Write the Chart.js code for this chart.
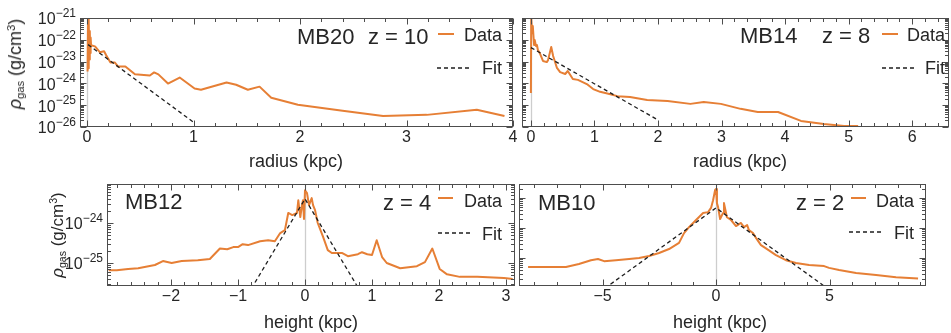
<!DOCTYPE html>
<html>
<head>
<meta charset="utf-8">
<script src="https://cdn.jsdelivr.net/npm/chart.js@4.4.1/dist/chart.umd.min.js"></script>
<style>
  body { margin: 0; background: #fff; }
  #wrap { position: relative; width: 951px; height: 333px; overflow: hidden;
          font-family: "Liberation Sans", Arial, sans-serif; color: #262626; }
  canvas { position: absolute; left: 0; top: 0; }
  .t { position: absolute; white-space: nowrap; line-height: 1; }
  .l { transform: translate(0, -50%); }
  .c { transform: translate(-50%, -50%); }
  .r { transform: translate(-100%, -50%); }
  .rot { transform: translate(-50%, -50%) rotate(-90deg); }
  .sub { font-size: 0.62em; position: relative; top: 0.3em; }
  .sup { font-size: 0.62em; position: relative; top: -0.55em; }
</style>
</head>
<body>
<div id="wrap">
  <canvas id="mb20" width="951" height="333"></canvas>
  <canvas id="mb14" width="951" height="333"></canvas>
  <canvas id="mb12" width="951" height="333"></canvas>
  <canvas id="mb10" width="951" height="333"></canvas>

  <div class="t rot" style="left:15px;top:64px;font-size:18px"><i>ρ</i><span class="sub">gas</span> (g/cm<span class="sup">3</span>)</div>
  <div class="t rot" style="left:57px;top:235px;font-size:17px"><i>ρ</i><span class="sub">gas</span> (g/cm<span class="sup">3</span>)</div>

  <div class="t c" style="left:296px;top:161px;font-size:18px">radius (kpc)</div>
  <div class="t c" style="left:740px;top:161px;font-size:18px">radius (kpc)</div>
  <div class="t c" style="left:311px;top:322px;font-size:18px">height (kpc)</div>
  <div class="t c" style="left:720px;top:322px;font-size:18px">height (kpc)</div>

  <div class="t l" style="left:297px;top:37px;font-size:22px">MB20</div>
  <div class="t l" style="left:368px;top:37px;font-size:22px">z = 10</div>
  <div class="t l" style="left:740px;top:36px;font-size:22px">MB14</div>
  <div class="t l" style="left:822px;top:36px;font-size:22px">z = 8</div>
  <div class="t l" style="left:125px;top:202px;font-size:22px">MB12</div>
  <div class="t l" style="left:383px;top:203px;font-size:22px">z = 4</div>
  <div class="t l" style="left:538px;top:203px;font-size:22px">MB10</div>
  <div class="t l" style="left:796px;top:203px;font-size:22px">z = 2</div>

  <div class="t r" style="left:502px;top:35px;font-size:18px">Data</div>
  <div class="t r" style="left:502px;top:68px;font-size:18px">Fit</div>
  <div class="t r" style="left:945px;top:35px;font-size:18px">Data</div>
  <div class="t r" style="left:945px;top:68px;font-size:18px">Fit</div>
  <div class="t r" style="left:502px;top:201px;font-size:18px">Data</div>
  <div class="t r" style="left:502px;top:234px;font-size:18px">Fit</div>
  <div class="t r" style="left:914px;top:201px;font-size:18px">Data</div>
  <div class="t r" style="left:914px;top:233px;font-size:18px">Fit</div>
</div>

<script>
// MB20, z = 10: radial gas density profile (kpc, g/cm^3)
const mb20Radius = [0.005, 0.01, 0.014, 0.018, 0.022, 0.026, 0.03, 0.034, 0.038, 0.075, 0.12, 0.16, 0.18, 0.22, 0.26, 0.29, 0.36,
  0.45, 0.59, 0.63, 0.67, 0.76, 0.87, 1.01, 1.07, 1.31, 1.40, 1.51, 1.62, 1.73, 1.98, 2.40, 2.78, 3.19, 3.66, 3.92];
const mb20Rho = [3.5e-24, 1.2e-21, 5.0e-24, 6.3e-22, 1.26e-23, 2.5e-22, 2.5e-23, 1.26e-22, 5.6e-23, 5.0e-23, 2.7e-23, 3.0e-23, 1.95e-23, 9.1e-24, 9.1e-24, 6.0e-24, 6.0e-24,
  2.6e-24, 2.3e-24, 3.2e-24, 2.6e-24, 9.8e-25, 1.86e-24, 5.8e-25, 5.1e-25, 1.1e-24, 8.7e-25, 5.1e-25, 7.1e-25, 2.2e-25, 1.05e-25, 5.5e-26, 3.2e-26, 3.6e-26, 6.2e-26, 3.2e-26];
const mb20FitRadius = [0.01, 1.0];
const mb20FitRho = [6.0e-23, 1.66e-26];

// MB14, z = 8
const mb14Radius = [0.0, 0.005, 0.02, 0.03, 0.05, 0.06, 0.08, 0.095, 0.11, 0.14, 0.19, 0.25, 0.27, 0.32, 0.35, 0.41, 0.46, 0.54, 0.58, 0.66,
  0.74, 0.88, 0.98, 1.09, 1.25, 1.36, 1.56, 1.83, 2.15, 2.51, 2.72, 2.99, 3.30, 3.57, 3.89, 4.25, 4.61, 4.93, 5.15];
const mb14Rho = [3.6e-25, 1.12e-21, 2.0e-22, 4.3e-22, 5.8e-23, 9.8e-23, 5.2e-23, 5.8e-23, 3.4e-23, 2.45e-23, 1.07e-23, 9.5e-24, 1.17e-23, 4.7e-23, 1.8e-23, 5.1e-24, 3.3e-24, 2.7e-24, 3.7e-24, 1.58e-24,
  1.45e-24, 9.3e-25, 5.5e-25, 4.1e-25, 3.2e-25, 2.6e-25, 2.4e-25, 1.74e-25, 1.55e-25, 1.15e-25, 1.41e-25, 1.15e-25, 6.8e-26, 4.9e-26, 4.9e-26, 1.9e-26, 1.38e-26, 1.12e-26, 1.12e-26];
const mb14FitRadius = [0.0, 2.0];
const mb14FitRho = [4.4e-23, 2.1e-26];

// MB12, z = 4: vertical profile
const mb12Height = [-2.93, -2.81, -2.64, -2.49, -2.24, -2.12, -1.99, -1.84, -1.60, -1.42, -1.27, -1.16, -1.07, -1.00, -0.93, -0.85, -0.67, -0.55, -0.45, -0.37,
  -0.30, -0.25, -0.19, -0.12, -0.10, -0.07, -0.045, -0.03, -0.015, 0.0, 0.03, 0.06, 0.10, 0.12, 0.15, 0.19, 0.27, 0.34, 0.40, 0.55,
  0.64, 0.79, 0.85, 0.93, 1.00, 1.07, 1.15, 1.22, 1.42, 1.67, 1.79, 1.90, 2.01, 2.12, 2.31, 2.57, 2.97, 3.10];
const mb12Rho = [6.6e-26, 6.6e-26, 7.1e-26, 7.4e-26, 8.9e-26, 1.12e-25, 1.0e-25, 1.12e-25, 1.17e-25, 1.26e-25, 2.3e-25, 2.2e-25, 2.5e-25, 2.5e-25, 2.95e-25, 2.8e-25, 3.5e-25, 3.7e-25, 3.5e-25, 5.6e-25,
  6.6e-25, 1.78e-24, 1.58e-24, 1.78e-24, 3.7e-24, 1.41e-24, 2.8e-24, 3.7e-24, 1.26e-24, 6.6e-24, 5.6e-24, 2.8e-24, 4.2e-24, 2.8e-24, 2.1e-24, 1.0e-24, 4.5e-25, 2.1e-25, 1.78e-25, 1.78e-25,
  1.48e-25, 1.66e-25, 1.86e-25, 1.66e-25, 1.58e-25, 3.7e-25, 1.41e-25, 1.0e-25, 7.4e-26, 8.3e-26, 1.05e-25, 2.3e-25, 7.1e-26, 5.2e-26, 4.5e-26, 4.5e-26, 4.2e-26, 4.0e-26];
const mb12FitHeight = [-0.8, 0, 0.8];
const mb12FitRho = [2.3e-26, 4.0e-24, 2.3e-26];

// MB10, z = 2
const mb10Height = [-8.28, -7.36, -6.61, -6.04, -5.51, -5.20, -4.93, -4.41, -3.83, -3.39, -2.95, -2.51, -2.07, -1.63, -1.41, -1.19, -0.88, -0.57, -0.35, -0.22,
  -0.13, -0.04, 0.0, 0.04, 0.09, 0.18, 0.31, 0.35, 0.48, 0.66, 0.88, 1.10, 1.23, 1.37, 1.45, 1.63, 1.76, 1.98, 2.20, 2.64,
  3.08, 3.52, 4.10, 4.76, 4.98, 5.42, 6.17, 7.05, 7.93, 8.90];
const mb10Rho = [5.0e-27, 5.0e-27, 5.0e-27, 6.3e-27, 8.5e-27, 9.3e-27, 7.9e-27, 8.5e-27, 9.3e-27, 1.0e-26, 1.17e-26, 1.48e-26, 2.0e-26, 3.2e-26, 6.8e-26, 1.07e-25, 1.86e-25, 3.2e-25, 3.4e-25, 4.7e-25,
  8.5e-25, 1.86e-24, 2.0e-24, 6.8e-25, 5.0e-25, 2.0e-25, 3.2e-25, 6.8e-25, 2.3e-25, 1.86e-25, 1.17e-25, 1.48e-25, 1.07e-25, 1.26e-25, 8.5e-26, 6.8e-26, 4.7e-26, 2.7e-26, 2.1e-26, 1.26e-26,
  8.5e-27, 6.8e-27, 5.9e-27, 5.4e-27, 4.7e-27, 4.0e-27, 3.2e-27, 2.7e-27, 2.3e-27, 2.1e-27];
const mb10FitHeight = [-4.9, 0, 4.9];
const mb10FitRho = [9.8e-28, 4.7e-25, 9.8e-28];

// tick labels
const mb20XTicks = [0, 1, 2, 3, 4];
const mb14XTicks = [0, 1, 2, 3, 4, 5, 6];
const mb12XTicks = [-2, -1, 0, 1, 2, 3];
const mb10XTicks = [-5, 0, 5];
const mb20YExp = [-26, -25, -24, -23, -22, -21];
const mb12YExp = [-25, -24];

const W = 951, H = 333;
const ORANGE = '#e67f35';
const FONT = '"Liberation Sans", Arial, sans-serif';

// frame with inward ticks on all four sides, zero line and legend keys
const framePlugin = {
  id: 'frame',
  beforeDatasetsDraw(chart) {
    const { ctx, chartArea: a, scales: { x } } = chart;
    const x0 = Math.round(x.getPixelForValue(0)) + 0.5;
    ctx.save();
    ctx.strokeStyle = '#cdcdcd';
    ctx.lineWidth = 1.3;
    ctx.beginPath();
    ctx.moveTo(x0, a.top);
    ctx.lineTo(x0, a.bottom);
    ctx.stroke();
    ctx.restore();
  },
  afterDraw(chart, args, o) {
    const { ctx, chartArea: a, scales: { x, y } } = chart;
    const L = Math.round(a.left) + 0.5, R = Math.round(a.right) - 0.5;
    const T = Math.round(a.top) + 0.5, B = Math.round(a.bottom) - 0.5;
    ctx.save();
    ctx.strokeStyle = '#4d4d4d';
    ctx.lineWidth = 1;
    ctx.strokeRect(L, T, R - L, B - T);

    ctx.beginPath();
    const n0 = Math.ceil(x.min / o.xMinor - 1e-6), n1 = Math.floor(x.max / o.xMinor + 1e-6);
    for (let i = n0; i <= n1; i++) {
      const v = i * o.xMinor;
      const major = Math.abs(v / o.xMajor - Math.round(v / o.xMajor)) < 1e-6;
      const len = major ? 6 : 3.5;
      const px = Math.round(x.getPixelForValue(v)) + 0.5;
      ctx.moveTo(px, B); ctx.lineTo(px, B - len);
      ctx.moveTo(px, T); ctx.lineTo(px, T + len);
    }
    const e0 = Math.floor(Math.log10(y.min)), e1 = Math.ceil(Math.log10(y.max));
    for (let e = e0; e <= e1; e++) {
      for (let m = 1; m < 10; m++) {
        const lv = Math.log10(m) + e;
        if (lv < Math.log10(y.min) - 1e-6 || lv > Math.log10(y.max) + 1e-6) continue;
        const len = m === 1 ? 6 : 3.5;
        const py = Math.round(y.getPixelForValue(Math.pow(10, lv))) + 0.5;
        ctx.moveTo(L, py); ctx.lineTo(L + len, py);
        ctx.moveTo(R, py); ctx.lineTo(R - len, py);
      }
    }
    ctx.stroke();

    // tick labels
    ctx.fillStyle = '#262626';
    ctx.font = '16px ' + FONT;
    ctx.textAlign = 'center';
    ctx.textBaseline = 'middle';
    o.xTicks.forEach(v => {
      const s = v < 0 ? '\u2212' + Math.abs(v) : String(v);
      ctx.fillText(s, x.getPixelForValue(v), a.bottom + 10.5);
    });
    ctx.textAlign = 'right';
    o.yExp.forEach(e => {
      const py = y.getPixelForValue(Math.pow(10, e));
      const ex = '\u2212' + Math.abs(e);
      ctx.font = '12px ' + FONT;
      const w = ctx.measureText(ex).width;
      ctx.fillText(ex, a.left - 4, py - 4.5);
      ctx.font = '16px ' + FONT;
      ctx.fillText('10', a.left - 4 - w, py + 2);
    });

    // legend keys
    const k = o.legend;
    ctx.strokeStyle = ORANGE;
    ctx.lineWidth = 2;
    ctx.beginPath();
    ctx.moveTo(k.data[0], k.data[2]); ctx.lineTo(k.data[1], k.data[2]);
    ctx.stroke();
    ctx.strokeStyle = '#1e1e1e';
    ctx.lineWidth = 1.3;
    ctx.setLineDash([4, 3]);
    ctx.beginPath();
    ctx.moveTo(k.fit[0], k.fit[2]); ctx.lineTo(k.fit[1], k.fit[2]);
    ctx.stroke();
    ctx.restore();
  }
};

function pts(xs, ys) {
  return xs.map((v, i) => ({ x: v, y: ys[i] }));
}

function panel(id, xs, ys, fx, fy, box, xr, yr, frame) {
  return new Chart(document.getElementById(id), {
    type: 'line',
    data: {
      datasets: [
        { data: pts(fx, fy), borderColor: '#1e1e1e', borderWidth: 1.3, borderDash: [4, 3], pointRadius: 0 },
        { data: pts(xs, ys), borderColor: ORANGE, borderWidth: 2, pointRadius: 0, borderJoinStyle: 'round' }
      ]
    },
    options: {
      responsive: false,
      animation: false,
      devicePixelRatio: 1,
      events: [],
      layout: { padding: { left: box[0], top: box[1], right: W - box[2], bottom: H - box[3] } },
      scales: {
        x: { type: 'linear', min: xr[0], max: xr[1], display: false },
        y: { type: 'logarithmic', min: yr[0], max: yr[1], display: false }
      },
      plugins: { legend: { display: false }, tooltip: { enabled: false }, frame: frame }
    },
    plugins: [framePlugin]
  });
}

panel('mb20', mb20Radius, mb20Rho, mb20FitRadius, mb20FitRho,
  [80, 18, 513, 127], [-0.066, 4.0], [1e-26, 1e-21],
  { xTicks: mb20XTicks, xMajor: 1, xMinor: 0.2, yExp: mb20YExp,
    legend: { data: [438, 454, 34], fit: [437, 471, 68] } });

panel('mb14', mb14Radius, mb14Rho, mb14FitRadius, mb14FitRho,
  [522, 18, 949, 127], [-0.14, 6.58], [1e-26, 1e-21],
  { xTicks: mb14XTicks, xMajor: 1, xMinor: 0.2, yExp: [],
    legend: { data: [882, 898, 34], fit: [882, 915, 68] } });

panel('mb12', mb12Height, mb12Rho, mb12FitHeight, mb12FitRho,
  [107, 184, 515, 286], [-2.955, 3.134], [2.66e-26, 9.44e-24],
  { xTicks: mb12XTicks, xMajor: 1, xMinor: 0.2, yExp: mb12YExp,
    legend: { data: [438, 453, 198], fit: [438, 471, 233] } });

panel('mb10', mb10Height, mb10Rho, mb10FitHeight, mb10FitRho,
  [519, 184, 926, 286], [-8.68, 9.25], [1.17e-27, 2.95e-24],
  { xTicks: mb10XTicks, xMajor: 5, xMinor: 1, yExp: [],
    legend: { data: [851, 866, 198], fit: [849, 883, 232] } });
</script>
</body>
</html>
